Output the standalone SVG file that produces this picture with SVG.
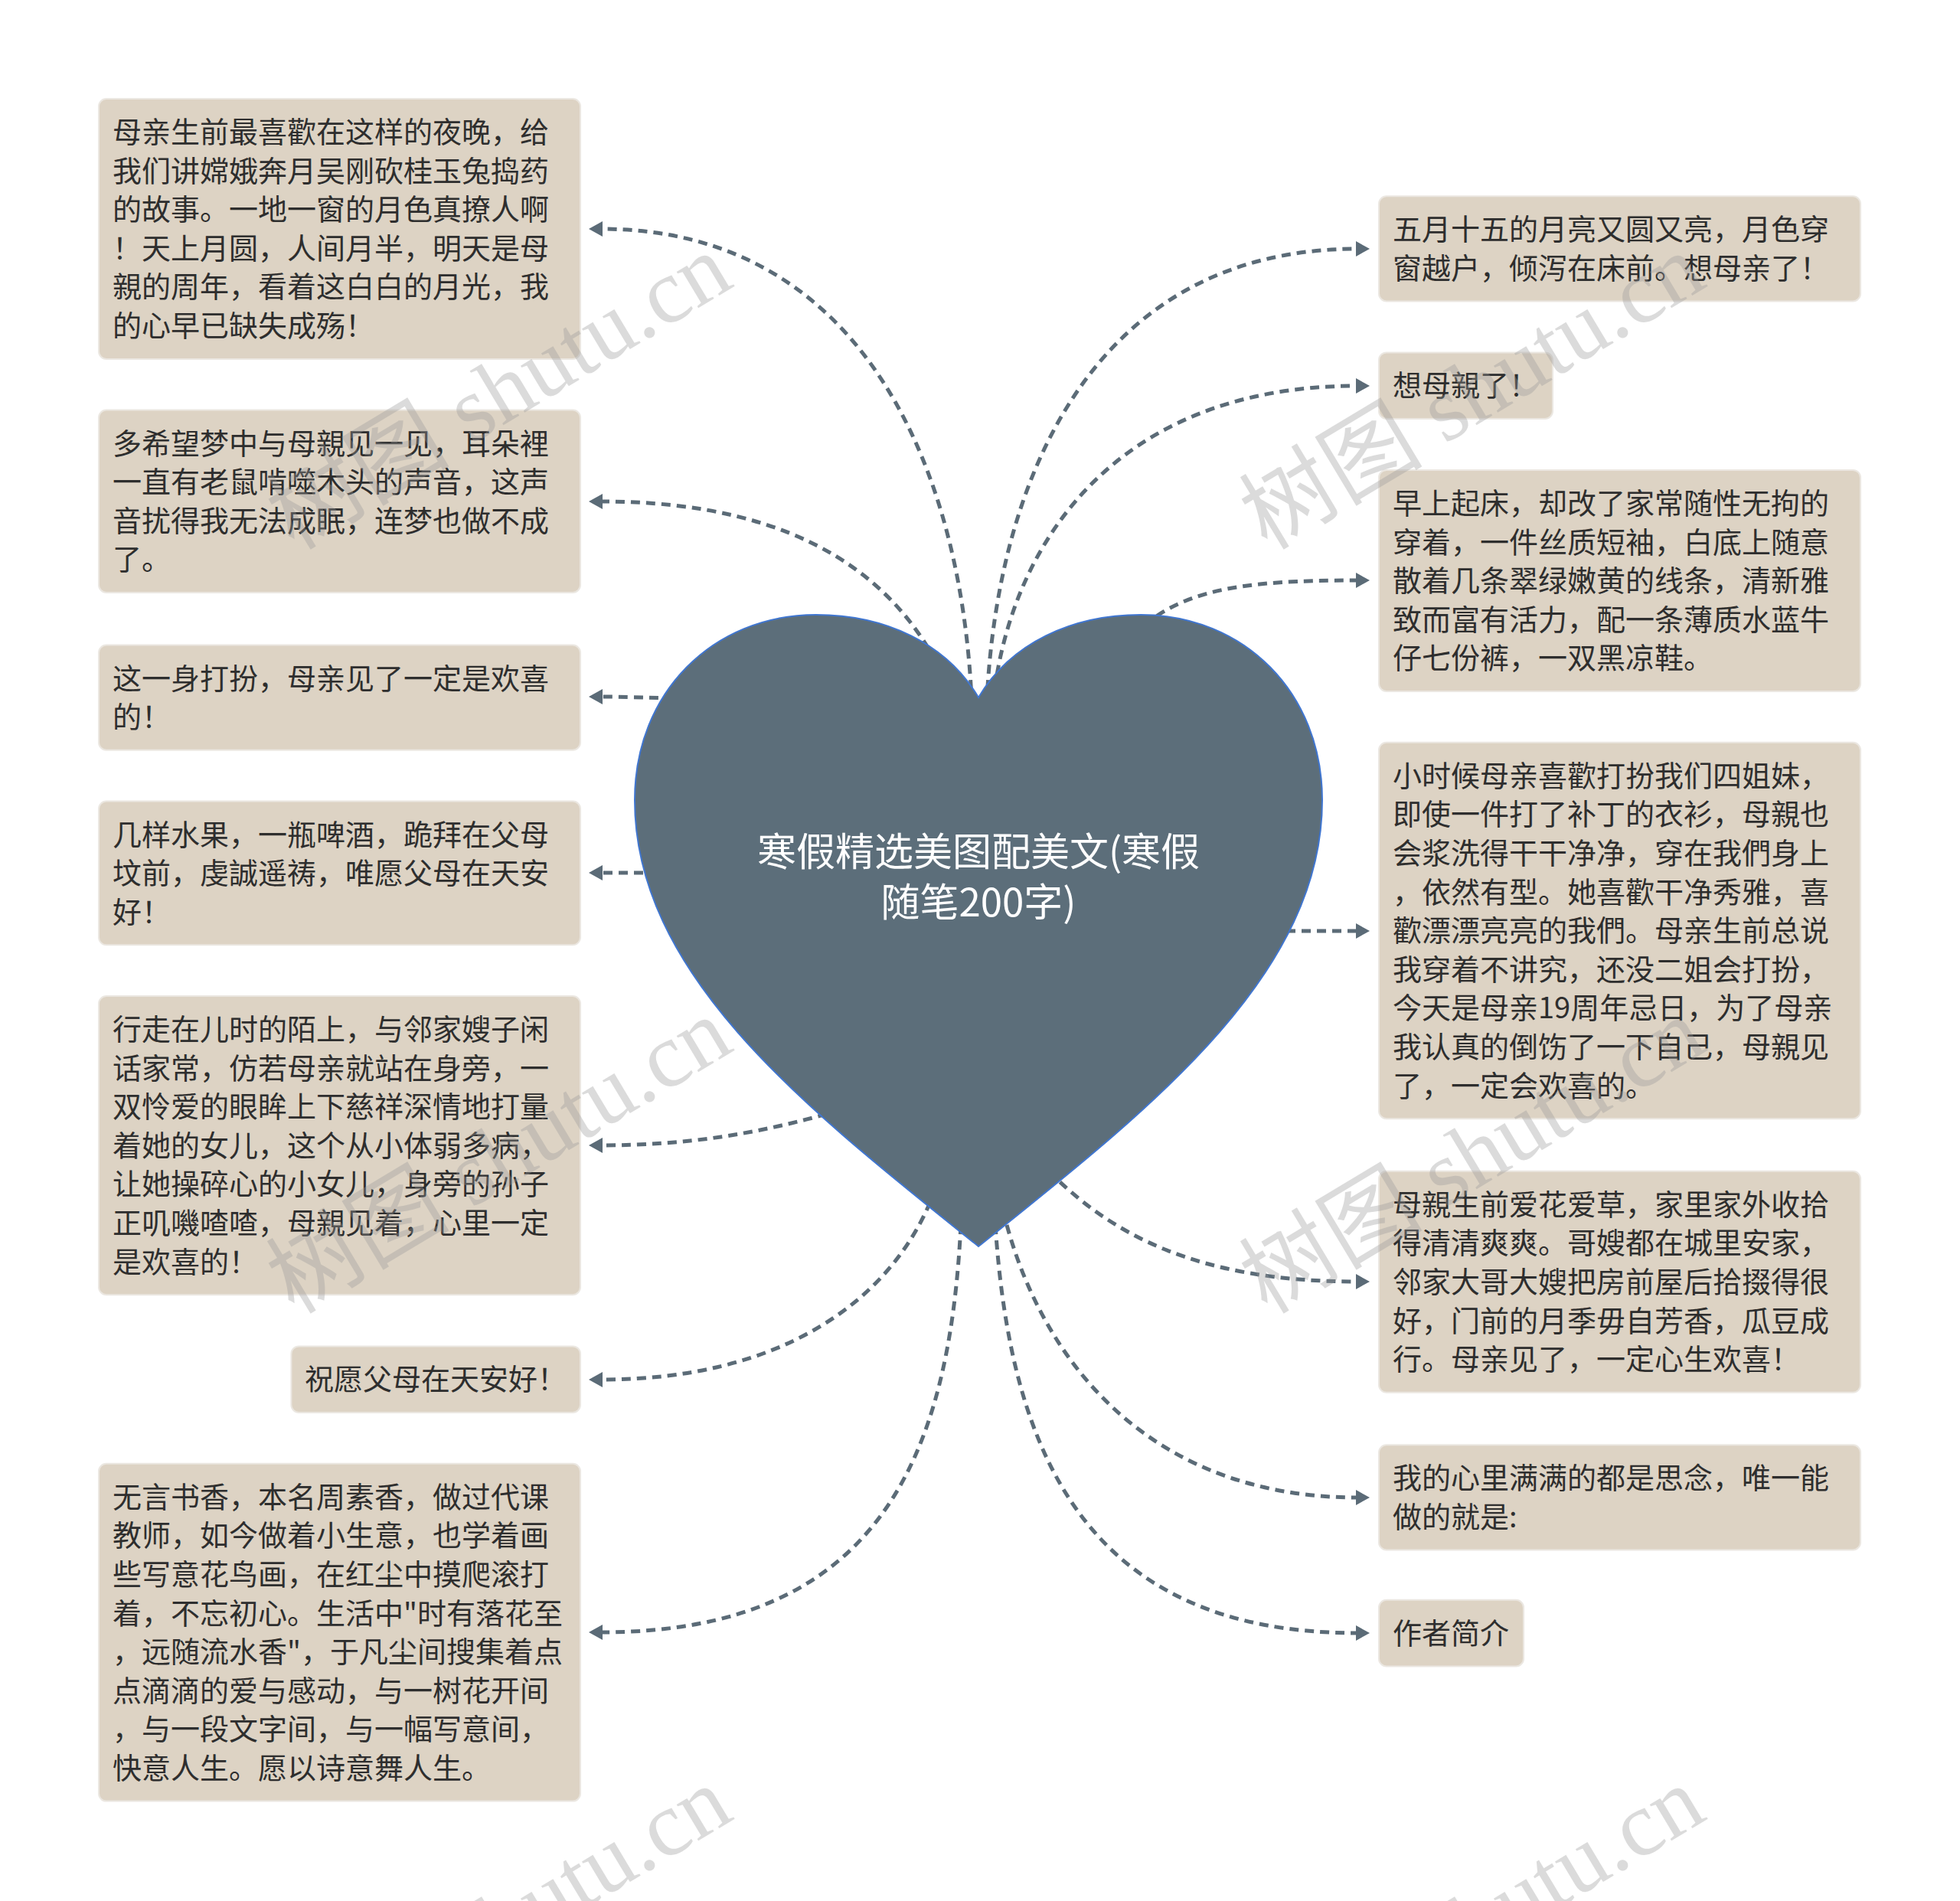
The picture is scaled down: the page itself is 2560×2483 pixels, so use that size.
<svg xmlns="http://www.w3.org/2000/svg" width="2560" height="2483" viewBox="0 0 2560 2483">
<style>
.box{fill:#ddd3c4;stroke:#ebe7e1;stroke-width:2}
.t{font-family:"Noto Sans CJK SC","Liberation Sans",sans-serif;font-size:38px;fill:#2e2e2e}
.ht{font-family:"Noto Sans CJK SC","Liberation Sans",sans-serif;font-size:51px;fill:#ffffff;text-anchor:middle}
.c{fill:none;stroke:#5b6b77;stroke-width:5;stroke-dasharray:12 8;marker-end:url(#ah)}
.wm{font-family:"Liberation Serif","Noto Sans CJK SC",serif;font-size:120px;fill:#9a9a9a;opacity:0.35;text-anchor:middle}
</style>
<defs>
<marker id="ah" viewBox="0 0 18 20" refX="2" refY="10" markerWidth="18" markerHeight="20" markerUnits="userSpaceOnUse" orient="auto">
<path d="M0,0 L18,10 L0,20 z" fill="#5b6b77"/>
</marker>
</defs>
<rect width="2560" height="2483" fill="#ffffff"/>
<g id="connectors">
<path class="c" d="M1270 940 C1262 620 1130 299 785 299"/>
<path class="c" d="M1240 900 C1180 760 1050 655 785 655"/>
<path class="c" d="M880 912 C840 911 810 910 785 910"/>
<path class="c" d="M880 1140 L785 1140"/>
<path class="c" d="M1080 1455 C990 1480 900 1496 785 1496"/>
<path class="c" d="M1215 1570 C1160 1700 1020 1802 785 1802"/>
<path class="c" d="M1255 1600 C1240 1900 1150 2132 785 2132"/>
<path class="c" d="M1288 940 C1296 640 1420 325 1773 325"/>
<path class="c" d="M1295 940 C1310 720 1450 504 1773 504"/>
<path class="c" d="M1480 830 C1540 770 1620 758 1773 758"/>
<path class="c" d="M1660 1216 L1773 1216"/>
<path class="c" d="M1370 1530 C1450 1610 1560 1674 1773 1674"/>
<path class="c" d="M1315 1600 C1370 1800 1520 1956 1773 1956"/>
<path class="c" d="M1300 1600 C1320 1900 1420 2133 1773 2133"/>
</g>
<g id="root">
<path d="M1278 911 C1320 840 1400 803 1490 803 C1625 803 1727 905 1727 1045 C1727 1275 1500 1450 1278 1628 C1056 1450 829 1275 829 1045 C829 905 931 803 1066 803 C1156 803 1236 840 1278 911 Z" fill="#5c6e7a" stroke="#4076d0" stroke-width="2"/>
<text class="ht" x="1278" y="1131">寒假精选美图配美文(寒假</text>
<text class="ht" x="1278" y="1197">随笔200字)</text>
</g>
<g id="L1">
<rect class="box" x="129" y="129" width="629" height="340" rx="10"/>
<text class="t" x="147" y="186">母亲生前最喜歡在这样的夜晚，给</text>
<text class="t" x="147" y="236.6">我们讲嫦娥奔月吴刚砍桂玉兔捣药</text>
<text class="t" x="147" y="287.2">的故事。一地一窗的月色真撩人啊</text>
<text class="t" x="147" y="337.8">！天上月圆，人间月半，明天是母</text>
<text class="t" x="147" y="388.4">親的周年，看着这白白的月光，我</text>
<text class="t" x="147" y="439">的心早已缺失成殇！</text>
</g>
<g id="L2">
<rect class="box" x="129" y="535.5" width="629" height="238.4" rx="10"/>
<text class="t" x="147" y="592.5">多希望梦中与母親见一见，耳朵裡</text>
<text class="t" x="147" y="643.1">一直有老鼠啃噬木头的声音，这声</text>
<text class="t" x="147" y="693.7">音扰得我无法成眠，连梦也做不成</text>
<text class="t" x="147" y="744.3">了。</text>
</g>
<g id="L3">
<rect class="box" x="129" y="842.5" width="629" height="137.2" rx="10"/>
<text class="t" x="147" y="899.5">这一身打扮，母亲见了一定是欢喜</text>
<text class="t" x="147" y="950.1">的！</text>
</g>
<g id="L4">
<rect class="box" x="129" y="1046.5" width="629" height="187.8" rx="10"/>
<text class="t" x="147" y="1103.5">几样水果，一瓶啤酒，跪拜在父母</text>
<text class="t" x="147" y="1154.1">坟前，虔誠遥祷，唯愿父母在天安</text>
<text class="t" x="147" y="1204.7">好！</text>
</g>
<g id="L5">
<rect class="box" x="129" y="1301" width="629" height="390.2" rx="10"/>
<text class="t" x="147" y="1358">行走在儿时的陌上，与邻家嫂子闲</text>
<text class="t" x="147" y="1408.6">话家常，仿若母亲就站在身旁，一</text>
<text class="t" x="147" y="1459.2">双怜爱的眼眸上下慈祥深情地打量</text>
<text class="t" x="147" y="1509.8">着她的女儿，这个从小体弱多病，</text>
<text class="t" x="147" y="1560.4">让她操碎心的小女儿，身旁的孙子</text>
<text class="t" x="147" y="1611">正叽嘰喳喳，母親见着，心里一定</text>
<text class="t" x="147" y="1661.6">是欢喜的！</text>
</g>
<g id="L6">
<rect class="box" x="380.4" y="1758.4" width="377.6" height="86.6" rx="10"/>
<text class="t" x="398" y="1815.4">祝愿父母在天安好！</text>
</g>
<g id="L7">
<rect class="box" x="129" y="1911.8" width="629" height="440.8" rx="10"/>
<text class="t" x="147" y="1968.8">无言书香，本名周素香，做过代课</text>
<text class="t" x="147" y="2019.4">教师，如今做着小生意，也学着画</text>
<text class="t" x="147" y="2070">些写意花鸟画，在红尘中摸爬滚打</text>
<text class="t" x="147" y="2120.6">着，不忘初心。生活中"时有落花至</text>
<text class="t" x="147" y="2171.2">，远随流水香"，于凡尘间搜集着点</text>
<text class="t" x="147" y="2221.8">点滴滴的爱与感动，与一树花开间</text>
<text class="t" x="147" y="2272.4">，与一段文字间，与一幅写意间，</text>
<text class="t" x="147" y="2323">快意人生。愿以诗意舞人生。</text>
</g>
<g id="R1">
<rect class="box" x="1801" y="256.3" width="629" height="137.2" rx="10"/>
<text class="t" x="1819" y="313.3">五月十五的月亮又圆又亮，月色穿</text>
<text class="t" x="1819" y="363.9">窗越户，倾泻在床前。想母亲了！</text>
</g>
<g id="R2">
<rect class="box" x="1801" y="460.4" width="227" height="86.6" rx="10"/>
<text class="t" x="1819" y="517.4">想母親了！</text>
</g>
<g id="R3">
<rect class="box" x="1801" y="613.9" width="629" height="289" rx="10"/>
<text class="t" x="1819" y="670.9">早上起床，却改了家常随性无拘的</text>
<text class="t" x="1819" y="721.5">穿着，一件丝质短袖，白底上随意</text>
<text class="t" x="1819" y="772.1">散着几条翠绿嫩黄的线条，清新雅</text>
<text class="t" x="1819" y="822.7">致而富有活力，配一条薄质水蓝牛</text>
<text class="t" x="1819" y="873.3">仔七份裤，一双黑凉鞋。</text>
</g>
<g id="R4">
<rect class="box" x="1801" y="969.8" width="629" height="491.4" rx="10"/>
<text class="t" x="1819" y="1026.8">小时候母亲喜歡打扮我们四姐妹，</text>
<text class="t" x="1819" y="1077.4">即使一件打了补丁的衣衫，母親也</text>
<text class="t" x="1819" y="1128">会浆洗得干干净净，穿在我們身上</text>
<text class="t" x="1819" y="1178.6">，依然有型。她喜歡干净秀雅，喜</text>
<text class="t" x="1819" y="1229.2">歡漂漂亮亮的我們。母亲生前总说</text>
<text class="t" x="1819" y="1279.8">我穿着不讲究，还没二姐会打扮，</text>
<text class="t" x="1819" y="1330.4">今天是母亲19周年忌日，为了母亲</text>
<text class="t" x="1819" y="1381">我认真的倒饬了一下自己，母親见</text>
<text class="t" x="1819" y="1431.6">了，一定会欢喜的。</text>
</g>
<g id="R5">
<rect class="box" x="1801" y="1529.8" width="629" height="289" rx="10"/>
<text class="t" x="1819" y="1586.8">母親生前爱花爱草，家里家外收拾</text>
<text class="t" x="1819" y="1637.4">得清清爽爽。哥嫂都在城里安家，</text>
<text class="t" x="1819" y="1688">邻家大哥大嫂把房前屋后拾掇得很</text>
<text class="t" x="1819" y="1738.6">好，门前的月季毋自芳香，瓜豆成</text>
<text class="t" x="1819" y="1789.2">行。母亲见了，一定心生欢喜！</text>
</g>
<g id="R6">
<rect class="box" x="1801" y="1887.3" width="629" height="137.2" rx="10"/>
<text class="t" x="1819" y="1944.3">我的心里满满的都是思念，唯一能</text>
<text class="t" x="1819" y="1994.9">做的就是:</text>
</g>
<g id="R7">
<rect class="box" x="1801" y="2089.8" width="189" height="86.6" rx="10"/>
<text class="t" x="1819" y="2146.8">作者简介</text>
</g>
<g id="watermarks">
<text class="wm" transform="translate(652 512) rotate(-31)" y="40">树图 shutu.cn</text>
<text class="wm" transform="translate(1923 512) rotate(-31)" y="40">树图 shutu.cn</text>
<text class="wm" transform="translate(652 1510) rotate(-31)" y="40">树图 shutu.cn</text>
<text class="wm" transform="translate(1923 1510) rotate(-31)" y="40">树图 shutu.cn</text>
<text class="wm" transform="translate(652 2514) rotate(-31)" y="40">树图 shutu.cn</text>
<text class="wm" transform="translate(1923 2514) rotate(-31)" y="40">树图 shutu.cn</text>
</g>
</svg>
